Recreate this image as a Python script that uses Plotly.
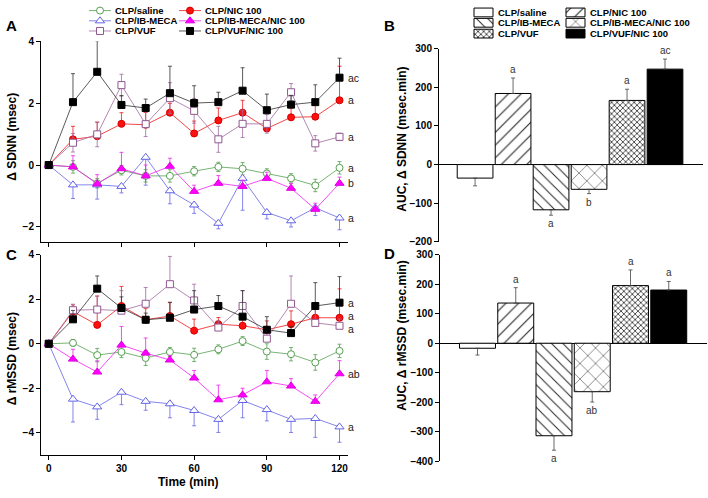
import plotly.graph_objects as go

W, H = 708, 498

TIME = [0, 10, 20, 30, 40, 50, 60, 70, 80, 90, 100, 110, 120]
GROUPS = ["CLP/saline", "CLP/NIC 100", "CLP/IB-MECA",
          "CLP/IB-MECA/NIC 100", "CLP/VUF", "CLP/VUF/NIC 100"]

# panel A: delta SDNN (msec), mean and SEM
SDNN_SALINE = [0, -0.06, -0.59, -0.17, -0.35, -0.35, -0.2, -0.06, -0.12, -0.27, -0.43, -0.66, -0.09]
SDNN_NIC = [0, 0.83, 0.93, 1.33, 1.30, 1.69, 1.02, 1.44, 1.69, 1.18, 1.54, 1.56, 2.09]
SDNN_IBMECA = [0, -0.64, -0.64, -0.69, 0.25, -0.83, -1.29, -1.88, -0.43, -1.53, -1.80, -1.38, -1.71]
SDNN_IBMECA_NIC = [0, -0.06, -0.61, -0.12, -0.35, -0.04, -0.85, -0.59, -0.69, -0.43, -0.75, -1.43, -0.59]
SDNN_VUF = [0, 0.72, 0.99, 2.58, 1.32, 2.16, 1.75, 0.83, 1.33, 1.33, 2.35, 0.70, 0.91]
SDNN_VUF_NIC = [0, 2.03, 3.01, 1.94, 1.84, 2.32, 2.0, 2.03, 2.4, 1.77, 1.95, 2.03, 2.82]

SDNN_SALINE_SEM = [0, 0.2, 0.15, 0.15, 0.2, 0.2, 0.15, 0.15, 0.2, 0.15, 0.15, 0.2, 0.2]
SDNN_NIC_SEM = [0, 0.42, 0.45, 0.36, 0.4, 0.3, 0.4, 0.4, 0.4, 0.25, 0.3, 0.4, 1.1]
SDNN_IBMECA_SEM = [0, 0.44, 0.46, 0.21, 0.9, 0.42, 0.27, 0.18, 1.03, 0.21, 0.2, 0.25, 0.38]
SDNN_IBMECA_NIC_SEM = [0, 0.36, 0.3, 0.53, 0.35, 0.26, 0.2, 0.25, 0.2, 0.2, 0.15, 0.2, 0.2]
SDNN_VUF_SEM = [0, 0.3, 0.4, 0.35, 0.4, 0.5, 0.4, 0.42, 0.44, 0.3, 0.28, 0.25, 0.12]
SDNN_VUF_NIC_SEM = [0, 0.92, 1.0, 0.3, 0.29, 0.87, 0.56, 0.32, 0.74, 0.52, 0.3, 0.56, 0.63]

# panel C: delta rMSSD (msec), mean and SEM
RMSSD_SALINE = [0, 0.04, -0.51, -0.37, -0.64, -0.37, -0.5, -0.25, 0.12, -0.35, -0.47, -0.84, -0.32]
RMSSD_NIC = [0, 1.45, 0.85, 1.7, 1.08, 1.25, 0.59, 0.88, 0.81, 0.63, 0.88, 1.17, 1.17]
RMSSD_IBMECA = [0, -2.49, -2.84, -2.18, -2.59, -2.7, -3.0, -3.4, -2.55, -2.96, -3.4, -3.36, -3.74]
RMSSD_IBMECA_NIC = [0, -0.69, -1.27, -0.06, -0.42, -0.73, -1.54, -2.52, -2.3, -1.71, -1.9, -2.59, -1.35]
RMSSD_VUF = [0, 1.51, 1.54, 1.49, 1.8, 2.68, 1.95, 0.73, 1.7, 0.23, 1.8, 0.94, 0.81]
RMSSD_VUF_NIC = [0, 1.1, 2.48, 1.61, 1.08, 1.17, 1.54, 1.7, 1.22, 0.63, 0.48, 1.7, 1.85]

RMSSD_SALINE_SEM = [0, 0.15, 0.3, 0.25, 0.34, 0.2, 0.3, 0.2, 0.2, 0.35, 0.3, 0.35, 0.3]
RMSSD_NIC_SEM = [0, 0.3, 1.3, 0.88, 0.5, 0.6, 0.52, 0.3, 0.4, 0.4, 0.6, 0.5, 1.3]
RMSSD_IBMECA_SEM = [0, 1.03, 0.56, 0.56, 0.4, 0.63, 0.69, 0.59, 0.78, 0.51, 0.59, 0.85, 0.69]
RMSSD_IBMECA_NIC_SEM = [0, 0.44, 0.5, 0.84, 0.68, 0.2, 0.34, 0.66, 0.3, 0.51, 0.33, 0.29, 0.59]
RMSSD_VUF_SEM = [0, 0.27, 0.6, 0.9, 0.73, 1.25, 0.73, 0.3, 0.69, 0.3, 1.25, 0.6, 0.3]
RMSSD_VUF_NIC_SEM = [0, 0.4, 0.57, 0.5, 0.3, 0.7, 0.85, 0.47, 1.17, 0.59, 0.3, 1.05, 1.17]

# panels B and D: AUC (msec.min)
AUC_SDNN = [-35, 184, -117, -64, 166, 247]
AUC_SDNN_SEM = [20, 40, 14, 11, 29, 26]
AUC_RMSSD = [-17, 136, -313, -164, 195, 180]
AUC_RMSSD_SEM = [23, 52, 49, 35, 53, 29]

# significance letters
SDNN_END_LETTERS = ["a", "a", "a", "b", "a", "ac"]
RMSSD_END_LETTERS = ["", "a", "a", "ab", "a", "a"]
AUC_SDNN_LETTERS = ["", "a", "a", "b", "a", "ac"]
AUC_RMSSD_LETTERS = ["", "a", "a", "ab", "a", "a"]

# which side of the point the error bar is drawn
ERR_SIDE_SDNN = ["both", "up", "down", "up", "both", "up"]
ERR_SIDE_RMSSD = ["both", "up", "down", "up", "up", "up"]

# small vertical nudges (px) so that end letters do not collide
SDNN_END_SHIFT = [0, 0, 0, 0, 0, 0]
RMSSD_END_SHIFT = [0, 2, 0, 0, -3, 0]

FONT = "Liberation Sans, Arial, sans-serif"

# line styles: (line colour, marker symbol, fill, edge)
LINE_STYLE = [
    ("#55a050", "circle", "white", "#55a050"),
    ("#f01818", "circle", "#ff1010", "#d00000"),
    ("#6464e6", "triangle-up", "white", "#6464e6"),
    ("#f020f0", "triangle-up", "#ff00ff", "#e000e0"),
    ("#a06aa0", "square", "white", "#905890"),
    ("#303030", "square", "black", "black"),
]
MARKER_SIZE = [7, 7, 8, 8, 7, 7]

# bar fills: (pattern shape, pattern size, solidity, fill)
BAR_STYLE = [
    ("", 8, 0.1, "white"),
    ("/", 9, 0.12, "white"),
    ("\\", 8, 0.12, "white"),
    ("x", 11, 0.09, "white"),
    ("x", 4, 0.35, "white"),
    ("", 8, 0.1, "black"),
]


def px_x(x):
    return x / W


def px_y(y):
    return 1 - y / H


def err_dict(sem, side, color):
    zero = [0] * len(sem)
    plus = sem if side in ("up", "both") else zero
    minus = sem if side in ("down", "both") else zero
    return dict(type="data", symmetric=False, array=plus, arrayminus=minus,
                color=color, thickness=0.8, width=2)


fig = go.Figure()

annotations = []

sdnn = [SDNN_SALINE, SDNN_NIC, SDNN_IBMECA, SDNN_IBMECA_NIC, SDNN_VUF, SDNN_VUF_NIC]
sdnn_sem = [SDNN_SALINE_SEM, SDNN_NIC_SEM, SDNN_IBMECA_SEM, SDNN_IBMECA_NIC_SEM,
            SDNN_VUF_SEM, SDNN_VUF_NIC_SEM]
rmssd = [RMSSD_SALINE, RMSSD_NIC, RMSSD_IBMECA, RMSSD_IBMECA_NIC, RMSSD_VUF, RMSSD_VUF_NIC]
rmssd_sem = [RMSSD_SALINE_SEM, RMSSD_NIC_SEM, RMSSD_IBMECA_SEM, RMSSD_IBMECA_NIC_SEM,
             RMSSD_VUF_SEM, RMSSD_VUF_NIC_SEM]

# line panels A (x/y) and C (x3/y3)
for vals, sems, sides, letters, shifts, xa, ya in [
    (sdnn, sdnn_sem, ERR_SIDE_SDNN, SDNN_END_LETTERS, SDNN_END_SHIFT, "x", "y"),
    (rmssd, rmssd_sem, ERR_SIDE_RMSSD, RMSSD_END_LETTERS, RMSSD_END_SHIFT, "x3", "y3"),
]:
    for i, name in enumerate(GROUPS):
        lc, sym, fill, edge = LINE_STYLE[i]
        fig.add_trace(go.Scatter(
            x=TIME, y=vals[i], name=name, mode="lines+markers",
            line=dict(color=lc, width=0.8),
            marker=dict(symbol=sym, size=MARKER_SIZE[i], color=fill,
                        line=dict(color=edge, width=1)),
            error_y=err_dict(sems[i], sides[i], lc),
            xaxis=xa, yaxis=ya, showlegend=False, cliponaxis=False,
        ))
        if letters[i]:
            annotations.append(dict(
                x=TIME[-1], y=vals[i][-1], xref=xa, yref=ya, text=letters[i],
                showarrow=False, xanchor="left", yanchor="middle",
                xshift=6, yshift=shifts[i],
                font=dict(family=FONT, size=10.5, color="#222"),
            ))

# bar panels B (x2/y2) and D (x4/y4)
positions = list(range(len(GROUPS)))
for vals, sems, letters, xa, ya in [
    (AUC_SDNN, AUC_SDNN_SEM, AUC_SDNN_LETTERS, "x2", "y2"),
    (AUC_RMSSD, AUC_RMSSD_SEM, AUC_RMSSD_LETTERS, "x4", "y4"),
]:
    for i, name in enumerate(GROUPS):
        shape, size, solid, fill = BAR_STYLE[i]
        v, e = vals[i], sems[i]
        fig.add_trace(go.Bar(
            x=[positions[i]], y=[v], name=name, width=0.94,
            marker=dict(color=fill, line=dict(color="black", width=1),
                        pattern=dict(shape=shape, size=size, solidity=solid,
                                     fgcolor="#222", bgcolor=fill, fillmode="replace")),
            error_y=dict(type="data", symmetric=False,
                         array=[e if v > 0 else 0], arrayminus=[e if v < 0 else 0],
                         color="#444", thickness=0.8, width=2),
            xaxis=xa, yaxis=ya, showlegend=False,
        ))
        if letters[i]:
            up = v > 0
            annotations.append(dict(
                x=positions[i], y=v + e if up else v - e, xref=xa, yref=ya,
                text=letters[i], showarrow=False,
                yanchor="bottom" if up else "top", yshift=1 if up else -1,
                font=dict(family=FONT, size=10, color="#333"),
            ))

# hand-made legends on a hidden pixel axis (x5/y5)
LEG_LINE_X = [89, 179]
LEG_ROW_Y = [4.7, 15.2, 25.6]
LEG_LINE_LEN = 22
LEG_BOX_X = [474, 566]
LEG_BOX_Y = [6.6, 17.2, 28.3]
LEG_BOX_W, LEG_BOX_H = 19, 9

for i, name in enumerate(GROUPS):
    col, row = i % 2, i // 2
    lc, sym, fill, edge = LINE_STYLE[i]
    x0 = LEG_LINE_X[col]
    y0 = LEG_ROW_Y[row]
    fig.add_trace(go.Scatter(
        x=[x0, x0 + LEG_LINE_LEN], y=[y0, y0], mode="lines",
        line=dict(color=lc, width=0.8), xaxis="x5", yaxis="y5",
        showlegend=False, hoverinfo="skip", cliponaxis=False,
    ))
    fig.add_trace(go.Scatter(
        x=[x0 + LEG_LINE_LEN / 2], y=[y0], mode="markers",
        marker=dict(symbol=sym, size=MARKER_SIZE[i], color=fill,
                    line=dict(color=edge, width=1)),
        xaxis="x5", yaxis="y5", showlegend=False, hoverinfo="skip", cliponaxis=False,
    ))
    annotations.append(dict(
        x=x0 + LEG_LINE_LEN + 2, y=y0, xref="x5", yref="y5", text=name,
        showarrow=False, xanchor="left", yanchor="middle",
        font=dict(family=FONT, size=9.5, color="black", weight="bold"),
    ))

    shape, size, solid, bfill = BAR_STYLE[i]
    bx = LEG_BOX_X[col]
    by = LEG_BOX_Y[row]
    fig.add_trace(go.Bar(
        x=[LEG_BOX_W], y=[by], base=[bx], orientation="h", width=[LEG_BOX_H],
        marker=dict(color=bfill, line=dict(color="black", width=1),
                    pattern=dict(shape=shape, size=size, solidity=solid,
                                 fgcolor="#222", bgcolor=bfill, fillmode="replace")),
        xaxis="x5", yaxis="y5", showlegend=False, hoverinfo="skip", cliponaxis=False,
    ))
    annotations.append(dict(
        x=bx + LEG_BOX_W + 3, y=by, xref="x5", yref="y5", text=name,
        showarrow=False, xanchor="left", yanchor="middle",
        font=dict(family=FONT, size=9.5, color="black", weight="bold"),
    ))

# panel letters and axis titles
for txt, x, y in [("A", 11, 20), ("B", 389, 20), ("C", 11, 255), ("D", 389, 254)]:
    annotations.append(dict(
        x=px_x(x), y=px_y(y), xref="paper", yref="paper", text=txt,
        showarrow=False, xanchor="center", yanchor="middle",
        font=dict(family=FONT, size=15, color="black", weight="bold"),
    ))

for txt, x, y in [("Δ SDNN (msec)", 12, 134), ("Δ rMSSD (msec)", 12, 362),
                  ("AUC, Δ SDNN (msec.min)", 402, 137),
                  ("AUC, Δ rMSSD (msec.min)", 402, 338)]:
    annotations.append(dict(
        x=px_x(x), y=px_y(y), xref="paper", yref="paper", text=txt,
        showarrow=False, textangle=-90, xanchor="center", yanchor="middle",
        font=dict(family=FONT, size=12, color="black", weight="bold"),
    ))

annotations.append(dict(
    x=px_x(188), y=px_y(488), xref="paper", yref="paper", text="Time (min)",
    showarrow=False, xanchor="center", yanchor="middle",
    font=dict(family=FONT, size=12, color="black", weight="bold"),
))

tick_font = dict(family=FONT, size=10, color="black", weight="bold")
axis_common = dict(showline=True, linecolor="black", linewidth=1, ticks="outside",
                   ticklen=4, tickcolor="black", tickwidth=1, showgrid=False,
                   zeroline=False, tickfont=tick_font, fixedrange=True)

fig.update_layout(
    width=W, height=H,
    margin=dict(l=0, r=0, t=0, b=0),
    paper_bgcolor="white", plot_bgcolor="rgba(0,0,0,0)",
    showlegend=False,
    barmode="overlay",
    font=dict(family=FONT, color="black"),
    xaxis=dict(domain=[px_x(41), px_x(348)], range=[-3.2, 123.5], anchor="y",
               tickvals=[0, 30, 60, 90, 120], showticklabels=False, **axis_common),
    yaxis=dict(domain=[px_y(242), px_y(36)], range=[-2.49, 4], anchor="x",
               tickvals=[-2, 0, 2, 4], **axis_common),
    xaxis3=dict(domain=[px_x(41), px_x(348)], range=[-3.2, 123.5], anchor="y3",
                tickvals=[0, 30, 60, 90, 120], **axis_common),
    yaxis3=dict(domain=[px_y(460), px_y(255)], range=[-5, 4], anchor="x3",
                tickvals=[-4, -2, 0, 2, 4], **axis_common),
    xaxis2=dict(domain=[px_x(439), px_x(703)], range=[-0.95, 6.0], anchor="y2",
                visible=False, fixedrange=True),
    yaxis2=dict(domain=[px_y(241.7), px_y(43.7)], range=[-200, 300], anchor="x2",
                dtick=100, **{**axis_common, "zeroline": True},
                zerolinecolor="black", zerolinewidth=1),
    xaxis4=dict(domain=[px_x(440), px_x(707)], range=[-0.98, 6.0], anchor="y4",
                visible=False, fixedrange=True),
    yaxis4=dict(domain=[px_y(466.7), px_y(254.7)], range=[-400, 300], anchor="x4",
                dtick=100, **{**axis_common, "zeroline": True},
                zerolinecolor="black", zerolinewidth=1),
    xaxis5=dict(domain=[0, 1], range=[0, W], anchor="y5", visible=False, fixedrange=True),
    yaxis5=dict(domain=[0, 1], range=[H, 0], anchor="x5", visible=False, fixedrange=True),
    annotations=annotations,
)

# drop the browser's default page margin so the figure sits at the top-left corner
fig.write_html("out.html", config={"displayModeBar": False},
               post_script="document.body.style.margin='0';document.body.style.overflow='hidden';")
